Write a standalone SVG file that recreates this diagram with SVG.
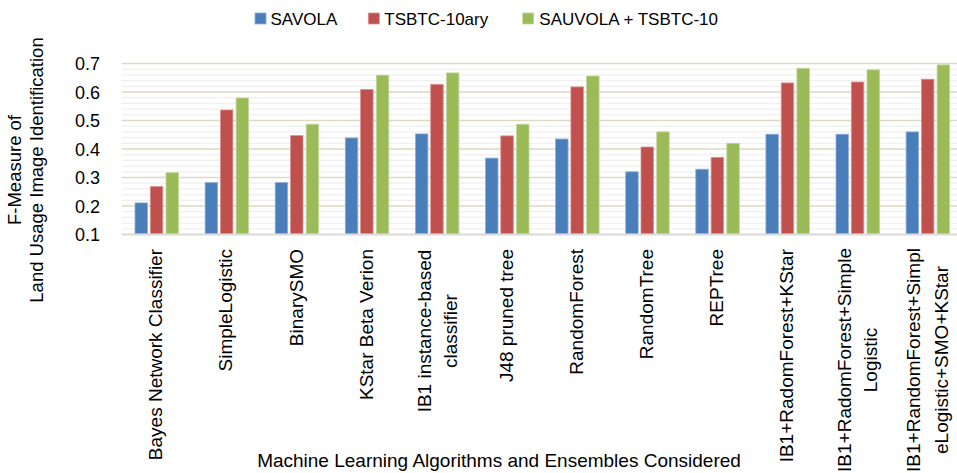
<svg xmlns="http://www.w3.org/2000/svg" width="957" height="473" viewBox="0 0 957 473">
  <style>
    text { font-family: "Liberation Sans", Arial, sans-serif; fill: #000; }
    .lg { font-size: 17px; }
    .tick { font-size: 18px; text-anchor: end; }
    .cat { font-size: 19px; }
    .ttl { font-size: 19px; text-anchor: middle; }
    .minor { stroke: #efefef; stroke-width: 1.2; }
    .major { stroke: #ddd9c3; stroke-width: 1.4; }
    .axis { stroke: #d9d9d9; stroke-width: 2; }
    .s1 { fill: #4a7ebb; stroke: #8fb0d9; stroke-width: 0.8; }
    .s2 { fill: #c0504d; stroke: #dc9391; stroke-width: 0.8; }
    .s3 { fill: #9bbb59; stroke: #c3d69b; stroke-width: 0.8; }
  </style>

  <rect width="957" height="473" fill="#ffffff"/>

  <!-- legend -->
  <g id="legend">
    <rect class="s1" x="255" y="13" width="11" height="11" stroke="none"/>
    <text class="lg" x="270.5" y="24.5">SAVOLA</text>
    <rect class="s2" x="368.3" y="13" width="11" height="11" stroke="none"/>
    <text class="lg" x="384.3" y="24.5">TSBTC-10ary</text>
    <rect class="s3" x="522.7" y="13" width="11" height="11" stroke="none"/>
    <text class="lg" x="539.3" y="24.5">SAUVOLA + TSBTC-10</text>
  </g>

  <!-- gridlines: minor every 0.02, major every 0.1 -->
  <g id="grid">
    <path class="minor" d="M121.8 228.8H957M121.8 223.1H957M121.8 217.4H957M121.8 211.7H957
      M121.8 200.3H957M121.8 194.6H957M121.8 188.9H957M121.8 183.2H957
      M121.8 171.8H957M121.8 166.1H957M121.8 160.4H957M121.8 154.7H957
      M121.8 143.3H957M121.8 137.6H957M121.8 131.9H957M121.8 126.2H957
      M121.8 114.8H957M121.8 109.1H957M121.8 103.4H957M121.8 97.7H957
      M121.8 86.3H957M121.8 80.6H957M121.8 74.9H957M121.8 69.2H957"/>
    <path class="major" d="M121.8 206H957M121.8 177.5H957M121.8 149H957M121.8 120.5H957M121.8 92H957M121.8 63.5H957"/>
  </g>

  <!-- y axis tick labels -->
  <g id="y-ticks">
    <text class="tick" x="100" y="70">0.7</text>
    <text class="tick" x="100" y="98.5">0.6</text>
    <text class="tick" x="100" y="127">0.5</text>
    <text class="tick" x="100" y="155.5">0.4</text>
    <text class="tick" x="100" y="184">0.3</text>
    <text class="tick" x="100" y="212.5">0.2</text>
    <text class="tick" x="100" y="241">0.1</text>
  </g>

  <!-- bars, one group per category -->
  <g id="bars">
    <g id="bayes-network">
      <rect class="s1" x="135" y="202.9" width="12.5" height="31.1"/>
      <rect class="s2" x="150.3" y="186.6" width="12.5" height="47.4"/>
      <rect class="s3" x="166" y="172.7" width="12.5" height="61.3"/>
    </g>
    <g id="simple-logistic">
      <rect class="s1" x="205.1" y="182.6" width="12.5" height="51.4"/>
      <rect class="s2" x="220.4" y="110" width="12.5" height="124"/>
      <rect class="s3" x="236.1" y="98" width="12.5" height="136"/>
    </g>
    <g id="binary-smo">
      <rect class="s1" x="275.2" y="182.6" width="12.5" height="51.4"/>
      <rect class="s2" x="290.5" y="135.6" width="12.5" height="98.4"/>
      <rect class="s3" x="306.2" y="124.2" width="12.5" height="109.8"/>
    </g>
    <g id="kstar">
      <rect class="s1" x="345.3" y="137.9" width="12.5" height="96.1"/>
      <rect class="s2" x="360.6" y="89.4" width="12.5" height="144.6"/>
      <rect class="s3" x="376.3" y="75.2" width="12.5" height="158.8"/>
    </g>
    <g id="ib1">
      <rect class="s1" x="415.4" y="133.9" width="12.5" height="100.1"/>
      <rect class="s2" x="430.7" y="84.3" width="12.5" height="149.7"/>
      <rect class="s3" x="446.4" y="72.9" width="12.5" height="161.1"/>
    </g>
    <g id="j48">
      <rect class="s1" x="485.5" y="158.1" width="12.5" height="75.9"/>
      <rect class="s2" x="500.8" y="135.9" width="12.5" height="98.1"/>
      <rect class="s3" x="516.5" y="124.2" width="12.5" height="109.8"/>
    </g>
    <g id="random-forest">
      <rect class="s1" x="555.6" y="139" width="12.5" height="95"/>
      <rect class="s2" x="570.9" y="86.9" width="12.5" height="147.1"/>
      <rect class="s3" x="586.6" y="76" width="12.5" height="158"/>
    </g>
    <g id="random-tree">
      <rect class="s1" x="625.7" y="171.8" width="12.5" height="62.2"/>
      <rect class="s2" x="641" y="147" width="12.5" height="87"/>
      <rect class="s3" x="656.7" y="131.9" width="12.5" height="102.1"/>
    </g>
    <g id="rep-tree">
      <rect class="s1" x="695.8" y="169.2" width="12.5" height="64.8"/>
      <rect class="s2" x="711.1" y="157.3" width="12.5" height="76.7"/>
      <rect class="s3" x="726.8" y="143.3" width="12.5" height="90.7"/>
    </g>
    <g id="ib1-rf-kstar">
      <rect class="s1" x="765.9" y="134.2" width="12.5" height="99.8"/>
      <rect class="s2" x="781.2" y="82.9" width="12.5" height="151.1"/>
      <rect class="s3" x="796.9" y="68.3" width="12.5" height="165.7"/>
    </g>
    <g id="ib1-rf-simplelogistic">
      <rect class="s1" x="836" y="134.2" width="12.5" height="99.8"/>
      <rect class="s2" x="851.3" y="82" width="12.5" height="152"/>
      <rect class="s3" x="867" y="69.8" width="12.5" height="164.2"/>
    </g>
    <g id="ib1-rf-sl-smo-kstar">
      <rect class="s1" x="906.1" y="131.9" width="12.5" height="102.1"/>
      <rect class="s2" x="921.4" y="79.2" width="12.5" height="154.8"/>
      <rect class="s3" x="937.1" y="64.9" width="12.5" height="169.1"/>
    </g>
  </g>

  <!-- category axis line -->
  <line id="x-axis" class="axis" x1="121.8" y1="234.5" x2="957" y2="234.5"/>

  <!-- category labels, rotated -->
  <g id="x-labels" class="cat">
    <text transform="translate(162.3 249) rotate(-90)" text-anchor="end">Bayes Network Classifier</text>
    <text transform="translate(232.4 249) rotate(-90)" text-anchor="end">SimpleLogistic</text>
    <text transform="translate(302.5 249) rotate(-90)" text-anchor="end">BinarySMO</text>
    <text transform="translate(372.6 249) rotate(-90)" text-anchor="end">KStar Beta Verion</text>
    <text transform="translate(430.7 331) rotate(-90)" text-anchor="middle">IB1 instance-based</text>
    <text transform="translate(456.7 331) rotate(-90)" text-anchor="middle">classifier</text>
    <text transform="translate(512.8 249) rotate(-90)" text-anchor="end">J48 pruned tree</text>
    <text transform="translate(582.9 249) rotate(-90)" text-anchor="end">RandomForest</text>
    <text transform="translate(653 249) rotate(-90)" text-anchor="end">RandomTree</text>
    <text transform="translate(723.1 249) rotate(-90)" text-anchor="end">REPTree</text>
    <text transform="translate(793.2 249) rotate(-90)" text-anchor="end">IB1+RadomForest+KStar</text>
    <text transform="translate(850.8 360) rotate(-90)" text-anchor="middle">IB1+RadomForest+Simple</text>
    <text transform="translate(877 360) rotate(-90)" text-anchor="middle">Logistic</text>
    <text transform="translate(920 360) rotate(-90)" text-anchor="middle">IB1+RandomForest+Simpl</text>
    <text transform="translate(948 360) rotate(-90)" text-anchor="middle">eLogistic+SMO+KStar</text>
  </g>

  <!-- axis titles -->
  <g id="y-title">
    <text class="ttl" style="font-size:18.5px" transform="translate(21 170) rotate(-90)">F-Measure of</text>
    <text class="ttl" style="font-size:18.5px" transform="translate(43 170) rotate(-90)">Land Usage Image Identification</text>
  </g>
  <text id="x-title" class="ttl" x="499" y="467">Machine Learning Algorithms and Ensembles Considered</text>
</svg>
